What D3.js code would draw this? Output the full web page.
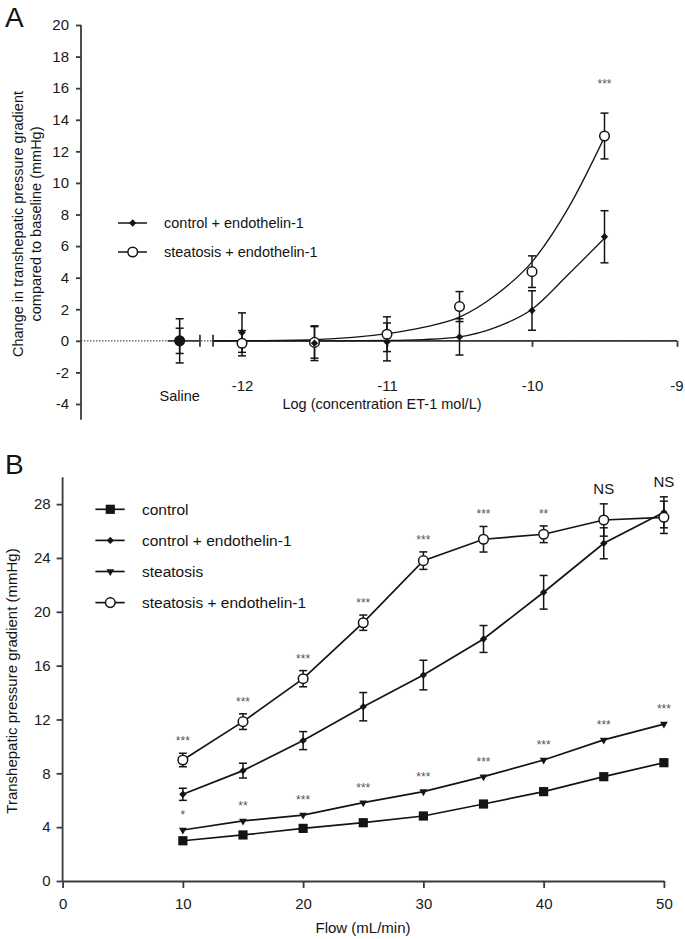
<!DOCTYPE html>
<html>
<head>
<meta charset="utf-8">
<script src="https://cdn.jsdelivr.net/npm/d3@7"></script>
<style>
  body { margin: 0; background: #fff; }
  svg { display: block; font-family: "Liberation Sans", Arial, sans-serif; }
  .axis path, .axis line { stroke: #3a3a3a; stroke-width: 1.8px; }
  .axis text { fill: #1a1a1a; }
</style>
</head>
<body>
<svg id="chart" width="685" height="939"></svg>
<script>
// ---- Panel A data: concentration-response to ET-1 ----
var logConc = [-12, -11.5, -11, -10.5, -10, -9.5];
var ctrlA = [0.52, -0.15, -0.07, 0.25, 1.92, 6.59];
var ctrlAErr = [1.25, 1.1, 1.2, 1.15, 1.25, 1.65];
var steaA = [-0.15, -0.1, 0.42, 2.17, 4.38, 12.97];
var steaAErr = [0.8, 1.0, 1.1, 0.95, 1.0, 1.45];
var salineCtrl = 0, salineCtrlErr = 0.8;
var salineStea = 0, salineSteaErr = 1.4;
// fitted curves
var fitX = [-12.2, -12, -11.5, -11, -10.75, -10.5, -10.25, -10, -9.75, -9.5];
var fitCtrl = [0, 0, 0, 0.02, 0.08, 0.25, 0.85, 2.0, 4.2, 6.5];
var fitStea = [0, 0.01, 0.08, 0.45, 0.85, 1.5, 2.9, 5.0, 8.4, 12.9];
var sigA = ["", "", "", "", "", "***"];
var yTicksA = [-4, -2, 0, 2, 4, 6, 8, 10, 12, 14, 16, 18, 20];
var xTicksA = [-12, -11, -10, -9];

// ---- Panel B data: pressure gradient vs flow ----
var flow = [10, 15, 20, 25, 30, 35, 40, 45, 50];
var control = [2.99, 3.42, 3.91, 4.33, 4.83, 5.72, 6.64, 7.75, 8.79];
var controlET = [6.44, 8.2, 10.43, 12.95, 15.3, 17.98, 21.45, 25.09, 27.39];
var controlETErr = [0.45, 0.55, 0.67, 1.05, 1.1, 1.0, 1.25, 1.15, 1.15];
var steatosis = [3.79, 4.46, 4.9, 5.82, 6.64, 7.75, 8.99, 10.48, 11.66];
var steatosisET = [8.99, 11.84, 15.03, 19.19, 23.8, 25.39, 25.76, 26.82, 27.02];
var steatosisETErr = [0.5, 0.58, 0.6, 0.57, 0.65, 0.95, 0.62, 1.2, 1.2];
var sigTop = ["***", "***", "***", "***", "***", "***", "**", "NS", "NS"];
var sigLow = ["*", "**", "***", "***", "***", "***", "***", "***", "***"];
var yTicksB = [0, 4, 8, 12, 16, 20, 24, 28];
var xTicksB = [0, 10, 20, 30, 40, 50];

var svg = d3.select("#chart");
var ink = "#141414";
// plain hyphen for negatives, like the original figure
var fmt = function(d) { return String(d); };

function marker(g, type, x, y) {
    if (type === "circle") {
        g.append("circle").attr("cx", x).attr("cy", y).attr("r", 4.8)
            .attr("fill", "#fff").attr("stroke", ink).attr("stroke-width", 1.5);
    } else if (type === "diamond") {
        g.append("path").attr("d", d3.symbol(d3.symbolDiamond2, 34)())
            .attr("transform", "translate(" + x + "," + y + ")").attr("fill", ink);
    } else if (type === "square") {
        g.append("rect").attr("x", x - 4.6).attr("y", y - 4.6).attr("width", 9.2).attr("height", 9.2)
            .attr("fill", ink);
    } else if (type === "triangle") {
        g.append("path").attr("d", d3.symbol(d3.symbolTriangle2, 44)())
            .attr("transform", "translate(" + x + "," + y + ") rotate(180)").attr("fill", ink);
    }
}

function errBar(g, x, yTop, yBot) {
    g.append("line").attr("x1", x).attr("x2", x).attr("y1", yTop).attr("y2", yBot)
        .attr("stroke", ink).attr("stroke-width", 1.5);
    [yTop, yBot].forEach(function(yy) {
        g.append("line").attr("x1", x - 4).attr("x2", x + 4).attr("y1", yy).attr("y2", yy)
            .attr("stroke", ink).attr("stroke-width", 1.5);
    });
}

// =================== Panel A ===================
var xA = d3.scaleLinear().domain([-12, -9]).range([242, 677]);
var yA = d3.scaleLinear().domain([-4, 20]).range([404, 25]);
var salinePos = -12.43, breakEnd = -12.2, salineSegEnd = -12.29;
var gA = svg.append("g");

svg.append("text").attr("x", 5).attr("y", 27).attr("font-size", 28).attr("fill", ink).text("A");

// dotted baseline at zero
gA.append("line").attr("x1", 81).attr("x2", xA(-9)).attr("y1", yA(0)).attr("y2", yA(0))
    .attr("stroke", "#555").attr("stroke-width", 1.2).attr("stroke-dasharray", "1.5,1.5");

// y axis
var yAxisA = gA.append("g").attr("class", "axis").attr("transform", "translate(81,0)")
    .call(d3.axisLeft(yA).tickValues(yTicksA).tickFormat(fmt).tickSize(5).tickPadding(7).tickSizeOuter(0));
yAxisA.select(".domain").remove();
yAxisA.append("line").attr("x1", 0).attr("x2", 0).attr("y1", yA(20)).attr("y2", yA(-5));
yAxisA.selectAll("text").attr("font-size", 15);

// x axis (broken after saline)
var xAxisA = gA.append("g").attr("class", "axis").attr("transform", "translate(0," + yA(0) + ")")
    .call(d3.axisBottom(xA).tickValues(xTicksA).tickFormat(fmt).tickSize(6).tickPadding(34).tickSizeOuter(0));
xAxisA.select(".domain").remove();
xAxisA.append("line").attr("x1", xA(breakEnd)).attr("x2", xA(-9));
xAxisA.append("line").attr("x1", xA(breakEnd)).attr("x2", xA(breakEnd)).attr("y1", -6).attr("y2", 6);
xAxisA.append("line").attr("x1", xA(salinePos) - 12).attr("x2", xA(salineSegEnd));
xAxisA.append("line").attr("x1", xA(salineSegEnd)).attr("x2", xA(salineSegEnd)).attr("y1", -6).attr("y2", 6);
xAxisA.selectAll("text").attr("font-size", 15);
// keep the last label inside the page
xAxisA.selectAll(".tick text").filter(function(d) { return d === -9; }).attr("text-anchor", "end").attr("dx", 6);

gA.append("text").attr("x", xA(salinePos)).attr("y", 401).attr("text-anchor", "middle")
    .attr("font-size", 14.5).attr("fill", ink).text("Saline");
gA.append("text").attr("x", 382).attr("y", 409).attr("text-anchor", "middle")
    .attr("font-size", 14.5).attr("fill", ink).text("Log (concentration ET-1 mol/L)");

var yTitleA = gA.append("text").attr("transform", "translate(0,224) rotate(-90)")
    .attr("text-anchor", "middle").attr("font-size", 14.5).attr("fill", ink);
yTitleA.append("tspan").attr("x", 0).attr("y", 23).text("Change in transhepatic pressure gradient");
yTitleA.append("tspan").attr("x", 0).attr("y", 41).text("compared to baseline (mmHg)");

// fitted curves
var lineA = d3.line().x(function(d) { return xA(d[0]); }).y(function(d) { return yA(d[1]); })
    .curve(d3.curveMonotoneX);
[fitCtrl, fitStea].forEach(function(fit) {
    gA.append("path").attr("d", lineA(fitX.map(function(x, i) { return [x, fit[i]]; })))
        .attr("fill", "none").attr("stroke", ink).attr("stroke-width", 1.3);
});

// error bars
errBar(gA, xA(salinePos), yA(salineSteaErr + salineStea), yA(salineStea - salineSteaErr));
errBar(gA, xA(salinePos), yA(salineCtrl + salineCtrlErr), yA(salineCtrl - salineCtrlErr));
logConc.forEach(function(x, i) {
    errBar(gA, xA(x), yA(ctrlA[i] + ctrlAErr[i]), yA(ctrlA[i] - ctrlAErr[i]));
    errBar(gA, xA(x), yA(steaA[i] + steaAErr[i]), yA(steaA[i] - steaAErr[i]));
});
marker(gA, "circle", xA(salinePos), yA(salineStea));
gA.append("circle").attr("cx", xA(salinePos)).attr("cy", yA(salineCtrl)).attr("r", 5).attr("fill", ink);
logConc.forEach(function(x, i) {
    marker(gA, "circle", xA(x), yA(steaA[i]));
    marker(gA, "diamond", xA(x), yA(ctrlA[i]));
    if (sigA[i]) {
        gA.append("text").attr("x", xA(x)).attr("y", yA(steaA[i] + steaAErr[i]) - 25)
            .attr("text-anchor", "middle").attr("font-size", 12).attr("fill", "#555").text(sigA[i]);
    }
});

// legend A
var legA = [["diamond", "control + endothelin-1"], ["circle", "steatosis + endothelin-1"]];
legA.forEach(function(d, i) {
    var y = 223 + i * 29;
    gA.append("line").attr("x1", 118).attr("x2", 147).attr("y1", y).attr("y2", y)
        .attr("stroke", ink).attr("stroke-width", 1.5);
    marker(gA, d[0], 132.7, y);
    gA.append("text").attr("x", 164).attr("y", y + 5).attr("font-size", 14.5).attr("fill", ink).text(d[1]);
});

// =================== Panel B ===================
var xB = d3.scaleLinear().domain([0, 50]).range([62.6, 663.9]);
var yB = d3.scaleLinear().domain([0, 30]).range([881, 477.2]);
var gB = svg.append("g");

svg.append("text").attr("x", 5).attr("y", 474).attr("font-size", 28).attr("fill", ink).text("B");

var yAxisB = gB.append("g").attr("class", "axis").attr("transform", "translate(" + xB(0) + ",0)")
    .call(d3.axisLeft(yB).tickValues(yTicksB).tickFormat(fmt).tickSize(6).tickPadding(6).tickSizeOuter(0));
yAxisB.select(".domain").remove();
yAxisB.append("line").attr("x1", 0).attr("x2", 0).attr("y1", yB(0)).attr("y2", yB(30));
yAxisB.selectAll("text").attr("font-size", 15);

var xAxisB = gB.append("g").attr("class", "axis").attr("transform", "translate(0," + yB(0) + ")")
    .call(d3.axisBottom(xB).tickValues(xTicksB).tickFormat(fmt).tickSize(7).tickPadding(10).tickSizeOuter(0));
xAxisB.selectAll("text").attr("font-size", 15);

gB.append("text").attr("x", 363).attr("y", 933).attr("text-anchor", "middle")
    .attr("font-size", 15).attr("fill", ink).text("Flow (mL/min)");
gB.append("text").attr("transform", "translate(17,681) rotate(-90)").attr("text-anchor", "middle")
    .attr("font-size", 15).attr("fill", ink).text("Transhepatic pressure gradient (mmHg)");

var seriesB = [
    { name: "control", vals: control, err: null, type: "square" },
    { name: "control + endothelin-1", vals: controlET, err: controlETErr, type: "diamond" },
    { name: "steatosis", vals: steatosis, err: null, type: "triangle" },
    { name: "steatosis + endothelin-1", vals: steatosisET, err: steatosisETErr, type: "circle" }
];

var lineB = d3.line().x(function(d) { return xB(d[0]); }).y(function(d) { return yB(d[1]); });
seriesB.forEach(function(s) {
    gB.append("path").attr("d", lineB(flow.map(function(f, i) { return [f, s.vals[i]]; })))
        .attr("fill", "none").attr("stroke", ink).attr("stroke-width", 1.7);
});
seriesB.forEach(function(s) {
    if (!s.err) return;
    flow.forEach(function(f, i) {
        errBar(gB, xB(f), yB(s.vals[i] + s.err[i]), yB(s.vals[i] - s.err[i]));
    });
});
seriesB.forEach(function(s) {
    flow.forEach(function(f, i) { marker(gB, s.type, xB(f), yB(s.vals[i])); });
});

// significance marks
flow.forEach(function(f, i) {
    var top = Math.max(controlET[i] + controlETErr[i], steatosisET[i] + steatosisETErr[i]);
    var ns = sigTop[i] === "NS";
    gB.append("text").attr("x", xB(f)).attr("y", yB(top) - (ns ? 10 : 8))
        .attr("text-anchor", "middle").attr("font-size", ns ? 15 : 12)
        .attr("fill", ns ? ink : "#555").text(sigTop[i]);
    gB.append("text").attr("x", xB(f)).attr("y", yB(steatosis[i]) - 11)
        .attr("text-anchor", "middle").attr("font-size", 12).attr("fill", "#555").text(sigLow[i]);
});

// legend B
seriesB.forEach(function(s, i) {
    var y = 509.3 + i * 31.1;
    gB.append("line").attr("x1", 95.4).attr("x2", 124.7).attr("y1", y).attr("y2", y)
        .attr("stroke", ink).attr("stroke-width", 1.7);
    marker(gB, s.type, 110.3, y);
    gB.append("text").attr("x", 142).attr("y", y + 5.5).attr("font-size", 15.5).attr("fill", ink).text(s.name);
});
</script>
</body>
</html>
